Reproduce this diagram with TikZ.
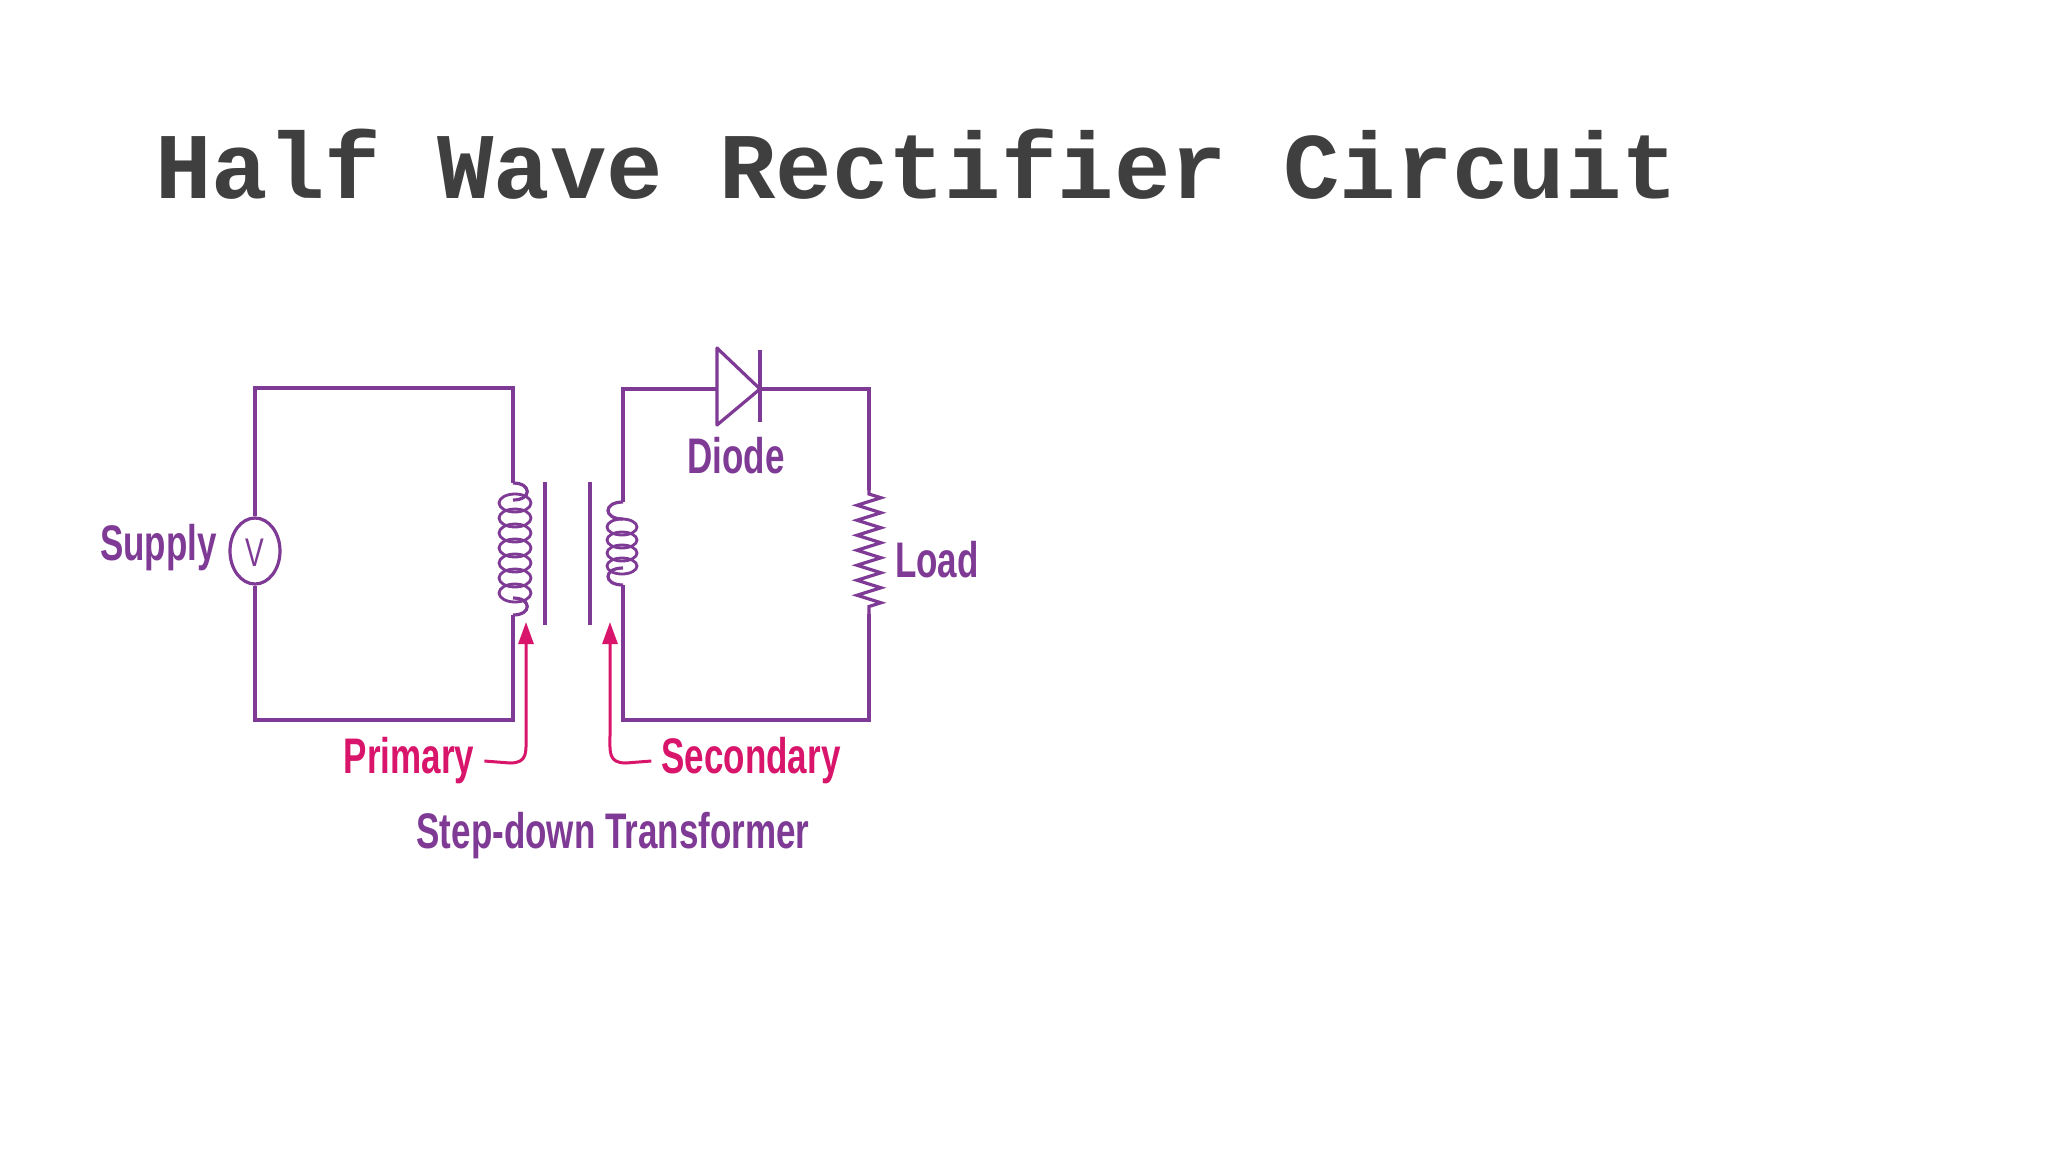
\documentclass[tikz,border=0pt]{standalone}
\usepackage{fontspec}
\setmainfont{Liberation Sans}
\newfontfamily\titlefont{Liberation Mono}
\newfontfamily\lblfont{Liberation Sans}[FakeStretch=0.70]
\usetikzlibrary{decorations.pathmorphing,arrows.meta,shapes.geometric}
\definecolor{wire}{HTML}{7E3A94}
\definecolor{pinkc}{HTML}{D8156A}
\definecolor{ttl}{HTML}{3F3F3F}
\begin{document}
\begin{tikzpicture}[x=1pt,y=-1pt,
  w/.style={draw=wire,line width=3.2pt},
  lbl/.style={font=\lblfont\bfseries\fontsize{50}{56}\selectfont,text=wire,inner sep=0pt},
  plbl/.style={lbl,text=pinkc},
  parr/.style={draw=pinkc,line width=3pt,-{Triangle[length=22pt,width=15pt]}}]
\useasboundingbox[fill=white] (0,0) rectangle (2048,1152);
\node[font=\titlefont\bfseries\fontsize{94}{100}\selectfont,text=ttl,anchor=west,inner sep=0pt] (title) at (155,164) {Half Wave Rectifier Circuit};
% primary loop
\coordinate (p1) at (513,483); \coordinate (p2) at (513,615);
\node[w,ellipse,minimum width=50pt,minimum height=66pt,inner sep=0pt] (V) at (255,551) {};
\node[lbl,font=\lblfont\fontsize{40}{44}\selectfont] (Vt) at (255,553) {V};
\draw[w] (V.north) |- (255,388) -| (p1);
\draw[w] (V.south) |- (255,720) -| (p2);
\draw[w] (p1) .. controls (532,483) and (532,500) .. (513,500);
\draw[w] (p2) .. controls (532,615) and (532,598) .. (513,598);
\foreach \i in {0,...,6} \draw[w,line width=2.8pt] (515,{503+\i*15}) ellipse[x radius=16,y radius=9];
% core
\draw[w] (545,482) -- (545,625);
\draw[w] (590,482) -- (590,625);
% secondary
\coordinate (s1) at (623,502); \coordinate (s2) at (623,585);
\coordinate (d1) at (717,389); \coordinate (d2) at (760,389);
\coordinate (r1) at (869,490); \coordinate (r2) at (869,614);
\draw[w] (s1) |- (d1);
\draw[w] (d2) -| (r1);
\draw[w] (s2) |- (869,720) -- (r2);
\draw[w] (s1) .. controls (603,502) and (603,519) .. (623,519);
\draw[w] (s2) .. controls (603,585) and (603,568) .. (623,568);
\foreach \i in {0,...,3} \draw[w,line width=2.8pt] (622,{527+\i*13}) ellipse[x radius=15,y radius=8];
\draw[w,line join=round] (717,348) -- (760,389) -- (717,425) -- cycle;
\draw[w] (760,350) -- (760,422);
\draw[w,decorate,decoration={zigzag,amplitude=12pt,segment length=15pt,pre length=4pt,post length=4pt}] (r1) -- (r2);
% labels
\node[lbl] (diode) at (736,456) {Diode};
\node[lbl,anchor=west] (load) at (895,560) {Load};
\node[lbl,anchor=east] (supply) at (217,548) {Supply};
\node[plbl] (prim) at (409,761) {Primary};
\node[plbl] (sec) at (751,761) {Secondary};
\node[lbl] (step) at (613,836) {Step-down Transformer};
\coordinate (pa) at (526,622); \coordinate (sa) at (610,622);
\draw[parr] (prim.east)++(10,0) -- (510,763) .. controls (528,763) and (526,752) .. (526,735) -- (pa);
\draw[parr] (sec.west)++(-10,0) -- (626,763) .. controls (608,763) and (610,752) .. (610,735) -- (sa);
\end{tikzpicture}
\end{document}
